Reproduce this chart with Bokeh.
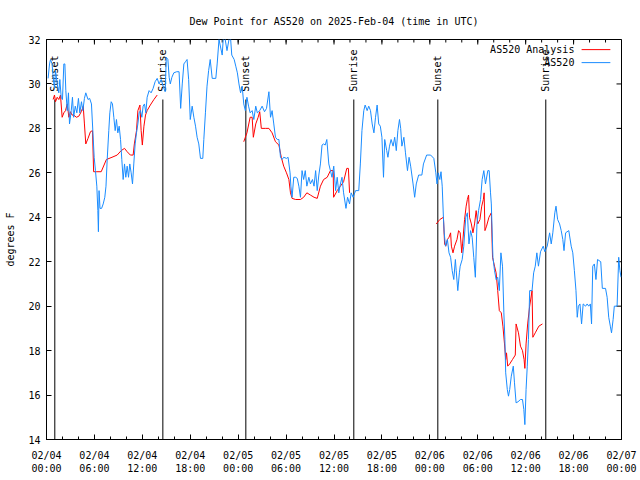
import math
from bokeh.plotting import figure
from bokeh.models import Range1d, FixedTicker, LinearAxis
from bokeh.core.properties import value
from bokeh.embed import file_html
from bokeh.resources import INLINE

# ---------------- data ----------------
title_text = "Dew Point for AS520 on 2025-Feb-04 (time in UTC)"
y_label = "degrees F"
x_tick_hours = [0, 6, 12, 18, 24, 30, 36, 42, 48, 54, 60, 66, 72]
x_tick_labels = ["02/04\n00:00", "02/04\n06:00", "02/04\n12:00", "02/04\n18:00",
                 "02/05\n00:00", "02/05\n06:00", "02/05\n12:00", "02/05\n18:00",
                 "02/06\n00:00", "02/06\n06:00", "02/06\n12:00", "02/06\n18:00",
                 "02/07\n00:00"]
x_minor_hours = [h for h in range(0, 73, 2)]
y_ticks = [14, 16, 18, 20, 22, 24, 26, 28, 30, 32]

sun_hours = [1.04, 14.57, 24.96, 38.48, 49.0, 62.52]
sun_labels = ["Sunset", "Sunrise", "Sunset", "Sunrise", "Sunset", "Sunrise"]

series_names = ["AS520 Analysis", "AS520"]

blue_hours = [
    0.2, 0.38, 0.5, 0.7, 0.83, 1.0, 1.13, 1.34, 1.54, 1.67, 1.84, 2.0, 2.17, 2.3, 2.42, 2.6,
    2.75, 2.88, 3.1, 3.25, 3.4, 3.6, 3.8, 4.0, 4.17, 4.38, 4.55, 4.75, 4.92, 5.2, 5.4, 5.63,
    5.8, 5.97, 6.13, 6.3, 6.43, 6.5, 6.58, 6.7, 6.9, 7.1, 7.3, 7.45, 7.6, 7.8, 7.93, 8.1,
    8.26, 8.43, 8.6, 8.76, 8.93, 9.1, 9.27, 9.43, 9.6, 9.77, 9.93, 10.1, 10.27, 10.43, 10.6,
    10.77, 10.93, 11.1, 11.27, 11.44, 11.6, 11.77, 11.94, 12.1, 12.27, 12.44, 12.6, 12.85,
    13.1, 13.35, 13.6, 13.86, 14.1, 14.36, 14.6, 14.86, 15.0, 15.2, 15.36, 15.5, 15.7, 15.94,
    16.3, 16.6, 16.8, 17.0, 17.2, 17.4, 17.6, 17.8, 18.0, 18.24, 18.45, 18.66, 18.86, 19.07,
    19.28, 19.57, 19.7, 19.9, 20.1, 20.3, 20.5, 20.75, 21.2, 21.37, 21.6, 22.0, 22.2, 22.6,
    23.0, 23.2, 23.5, 23.7, 23.9, 24.1, 24.3, 24.5, 24.7, 24.9, 25.1, 25.3, 25.5, 25.75,
    25.96, 26.2, 26.4, 26.7, 27.0, 27.3, 27.55, 27.85, 28.05, 28.25, 28.46, 28.67, 28.9,
    29.1, 29.3, 29.5, 29.7, 30.05, 30.25, 30.5, 30.6, 30.75, 30.96, 31.2, 31.4, 31.6, 31.8,
    32.0, 32.2, 32.4, 32.6, 32.85, 33.05, 33.3, 33.5, 33.7, 33.9, 34.1, 34.3, 34.5, 34.7,
    34.9, 35.1, 35.35, 35.55, 35.75, 35.97, 36.2, 36.4, 36.6, 36.8, 37.0, 37.2, 37.5, 37.7,
    37.95, 38.15, 38.4, 38.7, 39.1, 39.3, 39.5, 39.73, 39.9, 40.15, 40.35, 40.57, 40.78,
    41.0, 41.2, 41.4, 41.6, 41.8, 42.0, 42.2, 42.35, 42.6, 42.75, 42.95, 43.15, 43.4, 43.6,
    43.8, 44.0, 44.2, 44.35, 44.5, 44.75, 44.95, 45.2, 45.4, 45.6, 45.9, 46.1, 46.3, 46.6,
    47.0, 47.2, 47.6, 48.1, 48.5, 48.75, 48.9, 49.05, 49.25, 49.4, 49.55, 49.7, 49.8, 49.96,
    50.2, 50.4, 50.6, 50.8, 51.0, 51.2, 51.3, 51.5, 51.7, 51.8, 52.05, 52.25, 52.5, 52.7,
    52.9, 53.1, 53.3, 53.5, 53.7, 53.9, 54.1, 54.35, 54.55, 54.76, 54.97, 55.26, 55.43, 55.6,
    55.7, 55.9, 56.1, 56.3, 56.5, 56.7, 56.9, 57.1, 57.27, 57.4, 57.5, 57.7, 57.85, 58.0,
    58.2, 58.45, 58.6, 58.8, 59.05, 59.35, 59.6, 59.77, 59.9, 60.05, 60.2, 60.35, 60.5, 60.8,
    61.0, 61.2, 61.4, 61.6, 61.86, 62.2, 62.4, 62.7, 63.0, 63.2, 63.4, 63.65, 63.8, 64.0,
    64.25, 64.45, 64.65, 64.8, 65.0, 65.4, 65.7, 65.9, 66.1, 66.3, 66.46, 66.6, 66.8, 67.0,
    67.2, 67.5, 67.7, 67.9, 68.1, 68.25, 68.4, 68.6, 68.8, 69.0, 69.4, 69.6, 70.0, 70.2,
    70.4, 70.6, 70.75, 70.95, 71.1, 71.45, 71.65, 71.8, 71.95]
blue_values = [
    30.25, 30.9, 31.1, 30.9, 30.3, 29.8, 30.6, 30.0, 29.6, 30.2, 29.4, 29.3, 30.9, 30.9, 29.7, 28.8,
    29.6, 28.2, 28.8, 29.4, 28.5, 29.0, 28.7, 29.35, 28.7, 29.2, 28.8, 29.35, 29.6, 29.3, 29.35, 29.1,
    27.9, 26.7, 26.1, 25.4, 24.3, 23.35, 25.2, 24.4, 24.4, 24.6, 24.9, 25.4, 26.6, 27.9, 28.7, 29.2,
    29.1, 28.5, 27.9, 28.4, 27.8, 28.1, 27.5, 26.6, 25.7, 26.4, 25.8, 26.3, 25.8, 26.4, 26.0,
    25.5, 26.4, 27.3, 27.8, 28.2, 28.7, 28.8, 28.5, 29.0, 29.1, 28.7, 29.4, 29.7,
    29.6, 29.8, 30.1, 30.25, 30.0, 30.2, 29.9, 29.65, 31.2, 31.1, 30.3, 30.0, 30.3, 30.5,
    30.55, 30.55, 28.9, 30.0, 30.9, 31.0, 31.1, 30.2, 28.4, 29.0, 28.5, 28.1, 27.6, 27.3,
    26.65, 26.65, 27.5, 28.7, 29.9, 30.6, 31.1, 30.25, 30.25, 30.9, 32.0, 31.3, 32.4, 31.5,
    32.3, 31.3, 31.1, 30.8, 30.5, 30.0, 29.6, 29.9, 29.1, 28.8, 29.4, 29.0, 28.7, 28.8,
    28.4, 29.0, 28.7, 28.8, 29.0, 28.75, 28.9, 29.65, 28.5, 28.8, 28.2, 27.6, 27.5,
    27.5, 26.7, 26.6, 26.7, 26.65, 26.7, 26.0, 25.4, 24.9, 25.8, 25.8, 25.75, 25.4, 24.9,
    26.1, 25.7, 26.1, 25.4, 25.8, 25.5, 25.7, 25.4, 26.1, 25.2, 25.9, 26.4, 27.25, 27.3,
    27.25, 27.5, 26.4, 26.1, 25.8, 26.3, 25.2, 25.8, 25.1, 25.5, 25.8, 25.1, 24.4, 24.9,
    24.6, 25.1, 24.9, 25.2, 25.2, 26.4, 27.9, 28.8, 29.05, 28.8, 29.0, 28.8, 28.2,
    27.8, 28.5, 29.05, 28.2, 28.1, 27.6, 25.8, 27.5, 27.0, 26.7, 27.2, 27.5, 27.2, 27.6,
    27.0, 27.9, 28.4, 28.0, 27.2, 27.6, 26.9, 26.1, 26.7, 26.3, 25.5, 24.9, 25.5, 25.9,
    25.9, 26.4, 26.8, 26.8, 26.65, 26.0, 25.5, 26.0, 25.7, 26.05, 25.4, 24.0, 23.3, 22.7,
    23.0, 22.4, 22.2, 21.6, 21.2, 22.1, 21.6, 20.7, 21.5, 21.8, 22.1, 22.7, 24.0, 24.2,
    22.8, 23.4, 23.1, 22.2, 21.3, 23.7, 24.3, 24.8, 25.7, 26.1, 25.5, 26.1, 26.1, 25.1,
    24.6, 22.2, 21.6, 21.2, 21.3, 20.7, 22.4, 21.8, 19.7, 18.5, 17.0, 16.25, 15.95, 16.25,
    16.85, 17.3, 16.55, 15.65, 15.7, 15.8, 15.8, 15.35, 14.67, 16.25, 17.3, 18.5, 20.7, 20.7,
    21.5, 21.8, 22.4, 21.8, 22.45, 22.7, 22.45, 22.7, 23.3, 22.8, 23.3, 24.2, 24.5, 23.9,
    23.7, 23.4, 23.0, 22.5, 23.3, 23.4, 22.7, 22.4, 21.6, 20.7, 19.5, 20.0, 20.1, 19.2,
    20.1, 20.0, 20.1, 20.0, 20.1, 19.2, 21.8, 21.9, 21.2, 22.1, 22.0, 20.8, 20.8, 20.4,
    19.5, 19.1, 18.8, 19.4, 20.0, 20.0, 22.2, 21.6, 21.3]

red1_hours = [0.83, 1.0, 1.13, 1.34, 1.54, 1.75, 1.96, 2.17, 2.38, 2.6, 2.8, 3.0, 3.2, 3.4,
              3.75, 4.05, 4.35, 4.6, 4.75, 4.92, 5.2, 5.5, 5.76, 5.9, 6.3, 6.85, 7.5, 8.2,
              8.85, 9.35, 9.77, 10.1, 10.5, 10.85, 11.0, 11.27, 11.44, 11.7, 11.85, 12.0,
              12.2, 12.4, 12.6, 13.0, 13.45, 13.86]
red1_values = [29.3, 29.5, 29.2, 29.4, 29.3, 29.5, 28.5, 28.7, 28.8, 29.1, 28.5, 28.75, 28.6,
               28.6, 28.5, 28.55, 28.75, 29.0, 28.2, 27.3, 27.55, 27.85, 27.9, 26.05, 26.05,
               26.05, 26.6, 26.7, 26.8, 27.0, 27.1, 26.95, 26.8, 26.8, 27.3, 27.9, 28.8,
               29.05, 27.9, 27.25, 28.1, 28.6, 28.8, 29.05, 29.3, 29.5]
red2_hours = [24.7, 25.1, 25.5, 25.75, 25.9, 26.2, 26.5, 26.7, 26.9, 27.4, 27.85, 28.25,
              28.67, 29.1, 29.4, 29.7, 30.05, 30.35, 30.55, 30.75, 31.2, 31.8, 32.2, 32.6,
              33.05, 33.5, 33.9, 34.3, 34.7, 35.15, 35.55, 35.9, 35.95, 36.4, 36.8, 37.2,
              37.6, 37.8, 37.95]
red2_values = [27.4, 27.8, 28.5, 28.5, 27.6, 28.2, 28.5, 28.75, 28.0, 28.0, 28.0, 27.8,
               27.4, 27.25, 26.7, 26.3, 26.0, 25.7, 25.1, 24.85, 24.8, 24.8, 24.9, 25.1,
               25.0, 24.9, 24.85, 25.4, 25.7, 25.8, 26.1, 26.1, 24.9, 25.2, 25.4, 25.6,
               26.2, 26.2, 25.1]
red3_hours = [48.8, 49.25, 49.7, 49.85, 50.0, 50.2, 50.4, 50.6, 50.7, 50.9, 51.1, 51.4,
              51.6, 51.8, 52.0, 52.1, 52.35, 52.55, 52.7, 52.85, 52.97, 53.2, 53.4, 53.6,
              53.8, 54.0, 54.27, 54.5, 54.7, 54.8, 54.9, 55.1, 55.4, 55.7, 55.85, 56.1,
              56.3, 56.5, 56.7, 56.95, 57.15, 57.35, 57.5, 57.6, 57.75, 58.0, 58.35, 58.7,
              58.8, 59.1, 59.35, 59.6, 59.8, 59.9, 60.05, 60.25, 60.5, 60.8, 60.9, 61.2,
              61.65, 62.1]
red3_values = [23.7, 23.9, 24.0, 22.8, 22.7, 23.0, 23.1, 23.3, 22.7, 22.4, 22.7, 23.0,
               23.4, 23.3, 22.4, 22.8, 23.9, 24.5, 24.8, 25.0, 24.0, 23.7, 23.3, 23.7,
               24.3, 23.7, 23.9, 24.5, 24.8, 25.1, 23.4, 23.6, 24.0, 24.2, 22.2, 21.8,
               21.5, 20.7, 19.8, 19.7, 19.1, 18.3, 17.6, 17.9, 17.3, 17.4, 17.6, 17.8,
               19.2, 18.8, 18.2, 18.0, 17.6, 17.2, 18.3, 19.2, 20.0, 20.7, 18.6, 18.8,
               19.1, 19.2]

# ---------------- styling ----------------
FONT = "DejaVu Sans Mono"
FS = "10px"
RED = "#ff0000"
BLUE = "#1a8cff"

x_min, x_max = x_tick_hours[0], x_tick_hours[-1]
y_min, y_max = y_ticks[0], y_ticks[-1]

W, H = 640, 480
BL, BR, BT, BB = 46, 19, 39, 41
frame_w = W - BL - BR
frame_h = H - BT - BB

p = figure(width=W, height=H, output_backend="svg", toolbar_location=None,
           x_range=Range1d(x_min, x_max), y_range=Range1d(y_min, y_max),
           min_border_left=BL, min_border_right=BR, min_border_top=BT, min_border_bottom=BB,
           x_axis_location=None, y_axis_location=None)
p.background_fill_color = "white"
p.border_fill_color = "white"
p.outline_line_color = "black"
p.outline_line_width = 1
p.xgrid.visible = False
p.ygrid.visible = False

p.title.text = title_text
p.title.text_font = FONT
p.title.text_font_size = FS
p.title.text_font_style = "normal"
p.title.text_color = "black"
p.title.align = "center"
p.title.standoff = 25

xt = FixedTicker(ticks=x_tick_hours, minor_ticks=x_minor_hours)
yt = FixedTicker(ticks=y_ticks, minor_ticks=[])

MAJ, MIN = 5, 3   # tick lengths in px (inward)

def style_axis(ax):
    ax.axis_line_color = "black"
    ax.major_tick_line_color = "black"
    ax.minor_tick_line_color = "black"
    ax.major_tick_out = 0
    ax.major_tick_in = MAJ
    ax.minor_tick_out = 0
    ax.minor_tick_in = MIN
    ax.major_label_text_font = FONT
    ax.major_label_text_font_size = FS
    ax.major_label_text_color = "black"
    ax.axis_label_text_font = FONT
    ax.axis_label_text_font_size = FS
    ax.axis_label_text_font_style = "normal"
    ax.axis_label_text_color = "black"

xb = LinearAxis(ticker=xt)
style_axis(xb)
xb.major_label_overrides = {h: lab for h, lab in zip(x_tick_hours, x_tick_labels)}
xb.major_label_standoff = 10
xb.major_label_text_line_height = 1.2
p.add_layout(xb, "below")

yl = LinearAxis(ticker=yt, axis_label=y_label)
style_axis(yl)
yl.major_label_standoff = 6
yl.axis_label_standoff = 9
p.add_layout(yl, "left")

# mirrored inward ticks on the top and right edges
xpx = (x_max - x_min) / frame_w
ypx = (y_max - y_min) / frame_h
p.segment(x0=x_tick_hours, y0=[y_max] * len(x_tick_hours), x1=x_tick_hours,
          y1=[y_max - MAJ * ypx] * len(x_tick_hours), line_color="black", line_width=1)
p.segment(x0=x_minor_hours, y0=[y_max] * len(x_minor_hours), x1=x_minor_hours,
          y1=[y_max - MIN * ypx] * len(x_minor_hours), line_color="black", line_width=1)
p.segment(x0=[x_max] * len(y_ticks), y0=y_ticks, x1=[x_max - MAJ * xpx] * len(y_ticks),
          y1=y_ticks, line_color="black", line_width=1)

# sunrise / sunset markers
line_top = y_min + 0.85 * (y_max - y_min)
label_y = y_min + 0.8695 * (y_max - y_min)
p.segment(x0=sun_hours, y0=[y_min] * len(sun_hours), x1=sun_hours,
          y1=[line_top] * len(sun_hours), line_color="black", line_width=1)
p.text(x=sun_hours, y=[label_y] * len(sun_hours), text=sun_labels, angle=math.pi / 2,
       text_align="left", text_baseline="middle", text_font=value(FONT),
       text_font_size=FS, text_color="black")

# data
for hh, vv in [(red1_hours, red1_values), (red2_hours, red2_values), (red3_hours, red3_values)]:
    p.line(hh, vv, line_color=RED, line_width=1)
p.line(blue_hours, blue_values, line_color=BLUE, line_width=1)

# key (text right-aligned, sample line to the right)
key_text_x = x_max - 0.0819 * (x_max - x_min)
key_line_x0 = x_max - 0.0694 * (x_max - x_min)
key_line_x1 = x_max - 0.0194 * (x_max - x_min)
key_rows = [y_max - 0.0253 * (y_max - y_min), y_max - 0.0578 * (y_max - y_min)]
p.text(x=[key_text_x] * 2, y=key_rows, text=series_names, text_align="right",
       text_baseline="middle", text_font=value(FONT), text_font_size=FS, text_color="black")
p.segment(x0=[key_line_x0], y0=[key_rows[0]], x1=[key_line_x1], y1=[key_rows[0]],
          line_color=RED, line_width=1)
p.segment(x0=[key_line_x0], y0=[key_rows[1]], x1=[key_line_x1], y1=[key_rows[1]],
          line_color=BLUE, line_width=1)

open("out.html", "w").write(file_html(p, INLINE))
